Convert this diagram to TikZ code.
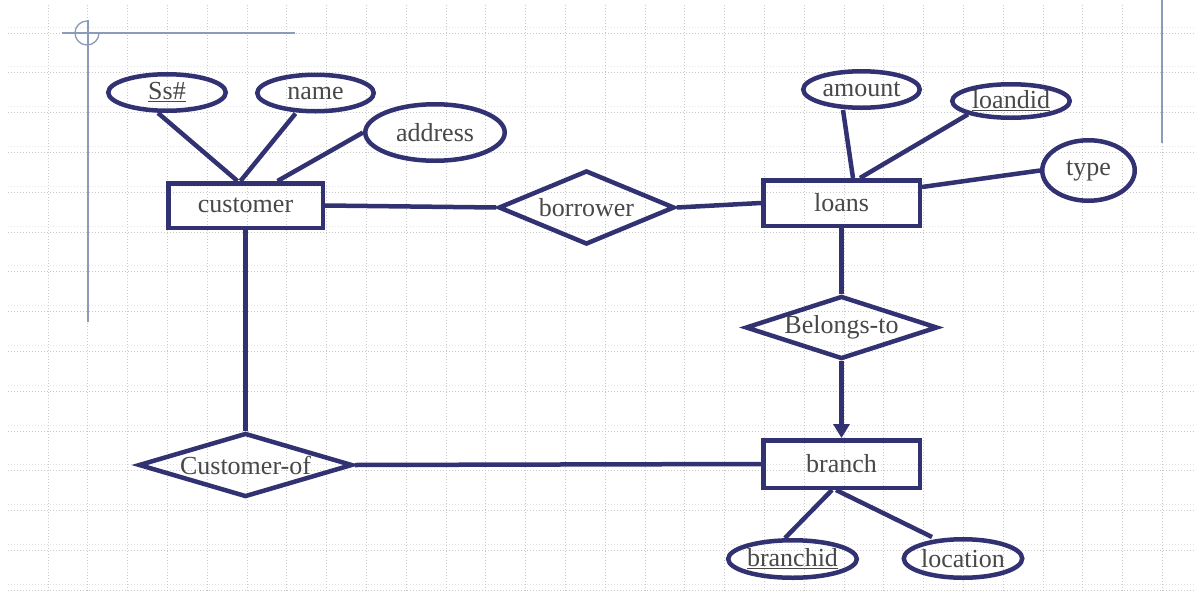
\documentclass[tikz,border=0pt]{standalone}
\usepackage{fontspec}
\setmainfont{Liberation Serif}
\usetikzlibrary{shapes.geometric,arrows.meta}
\definecolor{er}{RGB}{50,50,115}
\definecolor{txt}{RGB}{72,72,72}
\definecolor{deco}{RGB}{140,155,185}
\definecolor{gridc}{RGB}{200,200,200}
\definecolor{gridf}{RGB}{228,228,228}
\begin{document}
\begin{tikzpicture}[x=1pt,y=-1pt,
  lbl/.style={font=\fontsize{26}{30}\selectfont, text=txt},
  entity/.style={lbl, draw=er, line width=4.5pt, rectangle, inner sep=0pt},
  attr/.style={lbl, draw=er, line width=4.5pt, ellipse, inner sep=0pt},
  rel/.style={lbl, draw=er, line width=4.5pt, diamond, inner sep=0pt},
  conn/.style={draw=er, line width=4.5pt},
  gridline/.style={gridc, line width=1pt, dotted},
  gridfaint/.style={gridf, line width=1pt, dotted},
  decoline/.style={deco, line width=1.3pt}]
\useasboundingbox (0,0) rectangle (1195,592);
\fill[white] (0,0) rectangle (1195,592);
% background grid
\foreach \k in {0,...,14} {
  \draw[gridfaint] (8,{33+39.8*\k-6}) -- (1195,{33+39.8*\k-6});
  \draw[gridline] (8,{33+39.8*\k}) -- (1195,{33+39.8*\k});
}
\foreach \k in {0,...,28} {
  \draw[gridline] ({48+39.8*\k},5) -- ({48+39.8*\k},592);
}
% slide decoration
\draw[decoline] (62,33) -- (295,33);
\draw[decoline] (88,20) -- (88,322);
\draw[decoline] (99,33) arc[start angle=0, end angle=270, radius=12];
\draw[decoline] (1162,0) -- (1162,143);
% entities
\node[entity, minimum width=154.5pt, minimum height=44.5pt] (customer) at (245.5,205.5) {customer};
\node[entity, minimum width=156.5pt, minimum height=45.5pt] (loans) at (841.5,203) {loans};
\node[entity, minimum width=156.5pt, minimum height=47.5pt] (branch) at (841.5,464) {branch};
% attributes
\node[attr, minimum width=117.5pt, minimum height=36.5pt] (ss) at (167,92.5) {\underline{Ss\#}};
\node[attr, minimum width=116.5pt, minimum height=36.5pt] (name) at (315.5,93) {name};
\node[attr, minimum width=139.5pt, minimum height=56.5pt] (address) at (435,132.5) {address};
\node[attr, minimum width=116.5pt, minimum height=36.5pt] (amount) at (861.5,89.5) {amount};
\node[attr, minimum width=117.5pt, minimum height=33.5pt] (loandid) at (1011,101) {\underline{loandid}};
\node[attr, minimum width=92.5pt, minimum height=60.5pt] (type) at (1088.5,170.5) {type};
\node[attr, minimum width=116.5pt, minimum height=37.5pt] (branchid) at (792.5,559) {\underline{branchid}};
\node[attr, minimum width=115.5pt, minimum height=38.5pt] (location) at (963,558.5) {location};
% relationships
\node[rel, aspect=2.38, minimum width=176pt, minimum height=74pt] (borrower) at (586.5,207.5) {borrower};
\node[rel, aspect=3.05, minimum width=192pt, minimum height=63pt] (belongs) at (841.5,327.5) {Belongs-to};
\node[rel, aspect=3.33, minimum width=214pt, minimum height=64pt] (custof) at (245.5,465) {Customer-of};
% connectors
\draw[conn] ([xshift=-9pt]ss.south) -- ([xshift=-8pt]customer.north);
\draw[conn] ([xshift=-20pt]name.south) -- ([xshift=-5pt]customer.north);
\draw[conn] (address.west) -- ([xshift=32pt]customer.north);
\draw[conn] ([xshift=-18.5pt]amount.south) -- ([xshift=11.5pt]loans.north);
\draw[conn] (loandid.south west) -- ([xshift=18.5pt]loans.north);
\draw[conn] (type.west) -- ([yshift=16pt]loans.east);
\draw[conn] ([xshift=-7.5pt]branchid.north) -- ([xshift=-9.5pt]branch.south);
\draw[conn] ([xshift=-31pt]location.north) -- ([xshift=-5.5pt]branch.south);
\draw[conn] (customer.east) -- (borrower.west);
\draw[conn] (borrower.east) -- (loans.west);
\draw[conn] (loans.south) -- (belongs.north);
\draw[conn, -{Triangle[length=14pt,width=16pt]}] (belongs.south) -- (branch.north);
\draw[conn] (customer.south) -- (custof.north);
\draw[conn] (custof.east) -- (branch.west);
\end{tikzpicture}
\end{document}
